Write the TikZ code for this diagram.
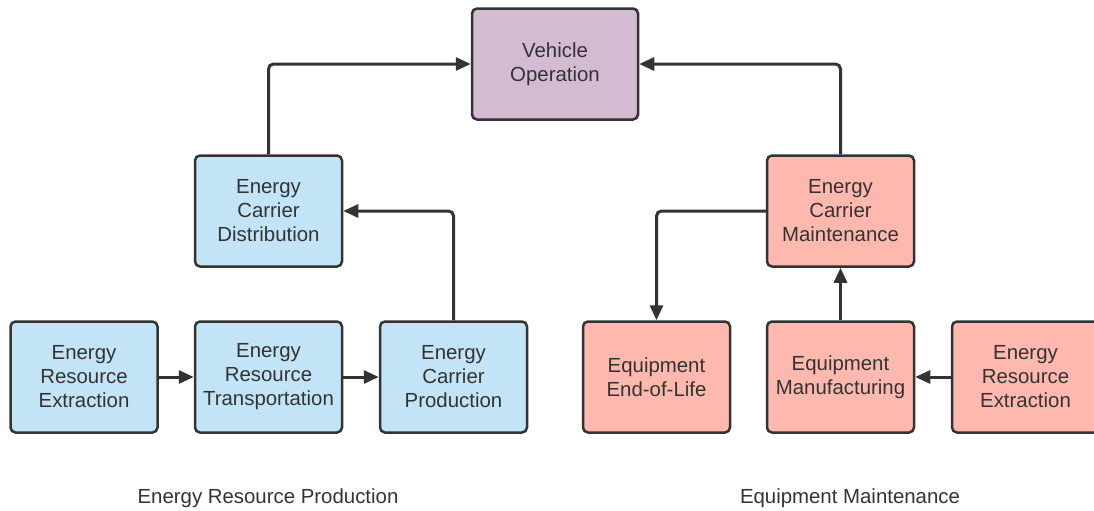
\documentclass[tikz,border=0pt]{standalone}
\usepackage{fontspec}
\setmainfont{Liberation Sans}
\usetikzlibrary{arrows.meta,positioning}
\definecolor{boxblue}{RGB}{194,228,246}
\definecolor{boxred}{RGB}{255,184,174}
\definecolor{boxpurple}{RGB}{211,187,211}
\definecolor{linegray}{RGB}{51,51,51}
\tikzset{
  box/.style={
    rectangle,
    rounded corners=2.5pt,
    draw=linegray,
    line width=1.25pt,
    minimum width=73.5pt,
    minimum height=55.5pt,
    align=center,
    text=linegray,
    font=\fontsize{10.2}{12}\selectfont
  },
  box-blue/.style={box, fill=boxblue},
  box-red/.style={box, fill=boxred},
  box-purple/.style={box, fill=boxpurple, minimum width=83pt},
  flow/.style={
    draw=linegray,
    line width=1.5pt,
    rounded corners=2.5pt,
    -{Triangle[length=7.5pt,width=6.5pt]}
  },
  caption/.style={text=linegray, font=\fontsize{10.2}{12}\selectfont}
}

\begin{document}
\begin{tikzpicture}[x=0.5pt,y=-0.5pt]
  \useasboundingbox (0,0) rectangle (1094,510);
  \node[box-purple] (veh) at (555,64) {Vehicle\\Operation};
  % resource production side
  \node[box-blue] (dist) at (268.5,211) {Energy\\Carrier\\Distribution};
  \node[box-blue] (extrL) at (84,377) {Energy\\Resource\\Extraction};
  \node[box-blue] (trans) at (268.5,377) {Energy\\Resource\\Transportation};
  \node[box-blue] (prod) at (453.5,377) {Energy\\Carrier\\Production};
  % maintenance side
  \node[box-red] (maint) at (840.5,211) {Energy\\Carrier\\Maintenance};
  \node[box-red] (eol) at (656.5,377) {Equipment\\End-of-Life};
  \node[box-red] (manuf) at (840.5,377) {Equipment\\Manufacturing};
  \node[box-red] (extrR) at (1025.5,377) {Energy\\Resource\\Extraction};

  \draw[flow] (extrL) -- (trans);
  \draw[flow] (trans) -- (prod);
  \draw[flow] (prod.north) |- (dist.east);
  \draw[flow] (dist.north) |- (veh.west);
  \draw[flow] (extrR) -- (manuf);
  \draw[flow] (manuf) -- (maint);
  \draw[flow] (maint.west) -| (eol.north);
  \draw[flow] (maint.north) |- (veh.east);

  \node[caption] (capL) at (268,498) {Energy Resource Production};
  \node[caption] (capR) at (850,498) {Equipment Maintenance};
\end{tikzpicture}
\end{document}
